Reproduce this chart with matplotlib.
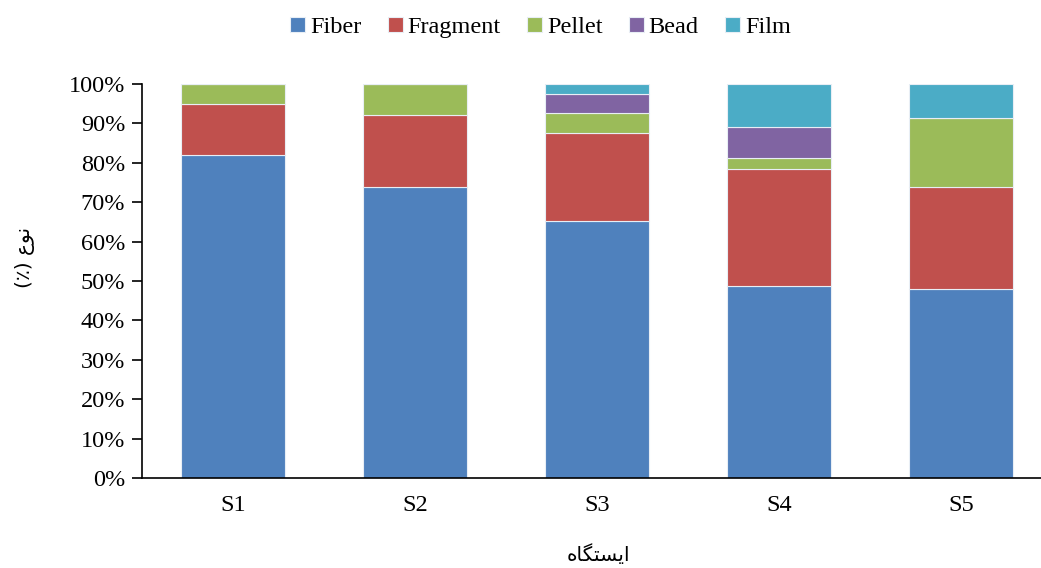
import numpy as np
import matplotlib
matplotlib.use("Agg")
import matplotlib.pyplot as plt
from matplotlib.ticker import PercentFormatter

plt.rcParams['font.family'] = ['Liberation Serif', 'DejaVu Sans']

# data (percent of each type per station)
stations = ['S1', 'S2', 'S3', 'S4', 'S5']
fiber = [82.1, 73.8, 65.2, 48.7, 47.9]
fragment = [12.9, 18.3, 22.3, 29.7, 26.0]
pellet = [5.0, 7.9, 5.1, 2.7, 17.5]
bead = [0.0, 0.0, 4.9, 8.1, 0.0]
film = [0.0, 0.0, 2.5, 10.8, 8.6]

series = [
    ('Fiber', fiber, '#4F81BD'),
    ('Fragment', fragment, '#C0504D'),
    ('Pellet', pellet, '#9BBB59'),
    ('Bead', bead, '#8064A2'),
    ('Film', film, '#4BACC6'),
]

# Persian labels, pre-shaped (presentation forms) in visual order
xlabel = '\uFEE9\uFE8E\uFB95\uFE98\uFEB4\uFBFE\uFE8D'      # ایستگاه
ylabel = '(\u066A) \uFEC9\uFEEE\uFEE7'                     # نوع (٪)

fig = plt.figure(figsize=(10.41, 5.68), dpi=100)
ax = fig.add_axes([142 / 1041, 1 - 478 / 568, 910 / 1041, 394 / 568])

x = np.arange(len(stations))
bottom = np.zeros(len(stations))
for name, vals, col in series:
    vals = np.array(vals)
    ax.bar(x, vals, 0.57, bottom=bottom, color=col, edgecolor='#e8eef5',
           linewidth=0.8, label=name)
    bottom += vals

ax.set_xlim(-0.5, len(stations) - 0.5)
ax.set_ylim(0, 100)
ax.set_yticks(np.arange(0, 101, 10))
ax.yaxis.set_major_formatter(PercentFormatter(decimals=0))
ax.set_xticks(x)
ax.set_xticklabels(stations)
ax.tick_params(axis='x', length=0, pad=12, labelsize=17.5)
ax.tick_params(axis='y', length=7, width=1.2, labelsize=17.5, pad=5)

for s in ['top', 'right']:
    ax.spines[s].set_visible(False)
ax.spines['left'].set_linewidth(1.2)
ax.spines['bottom'].set_linewidth(1.2)

ax.set_xlabel(xlabel, family='DejaVu Sans', fontsize=14.5)
ax.xaxis.set_label_coords(0.501, -0.168)
ax.set_ylabel(ylabel, family='DejaVu Sans', fontsize=14.5)
ax.yaxis.set_label_coords(-0.118, 0.56)

ax.legend(loc='center', bbox_to_anchor=(0.438, 1.143), ncol=5,
          frameon=False, fontsize=17.5, handlelength=0.6, handleheight=0.6,
          handletextpad=0.2, columnspacing=1.1)

fig.savefig('out.png', dpi=100)
